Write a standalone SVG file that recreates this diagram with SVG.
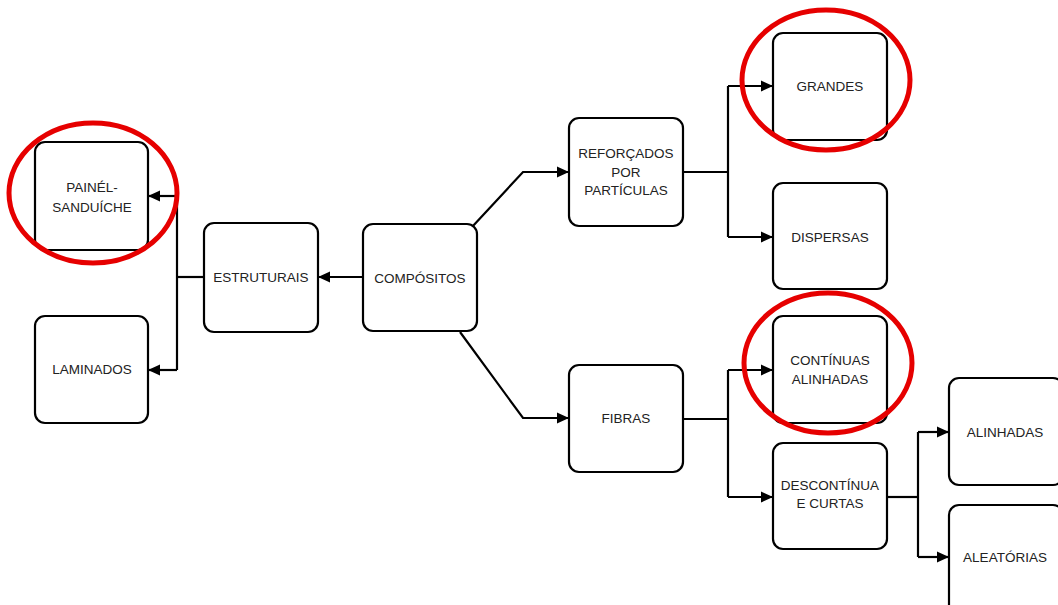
<svg xmlns="http://www.w3.org/2000/svg" width="1058" height="605" viewBox="0 0 1058 605">
<style>
.box{fill:#fff;stroke:#000;stroke-width:2.2}
.t{font-family:"Liberation Sans",Arial,sans-serif;font-size:13.5px;fill:#222;text-anchor:middle}
.c{fill:none;stroke:#000;stroke-width:2.2}
.hl{fill:none;stroke:#e60000;stroke-width:5}
</style>
<defs>
<marker id="arr" viewBox="0 0 12 12" refX="12" refY="6" markerWidth="12" markerHeight="12" markerUnits="userSpaceOnUse" orient="auto">
<path d="M0,0.5 L12,6 L0,11.5 Z" fill="#000"/>
</marker>
</defs>
<rect width="1058" height="605" fill="#fff"/>
<g id="connectors">
<path class="c" d="M363,277 L318,277" marker-end="url(#arr)"/>
<path class="c" d="M204,277 L177,277"/>
<path class="c" d="M177,196 L177,370"/>
<path class="c" d="M177,196 L148,196" marker-end="url(#arr)"/>
<path class="c" d="M177,370 L148,370" marker-end="url(#arr)"/>
<path class="c" d="M472,227 L523,172 L569,172" marker-end="url(#arr)"/>
<path class="c" d="M460,332 L523,418 L569,418" marker-end="url(#arr)"/>
<path class="c" d="M683,172 L728,172"/>
<path class="c" d="M728,86 L728,237"/>
<path class="c" d="M728,86 L773,86" marker-end="url(#arr)"/>
<path class="c" d="M728,237 L773,237" marker-end="url(#arr)"/>
<path class="c" d="M683,419 L728,419"/>
<path class="c" d="M728,370 L728,497"/>
<path class="c" d="M728,370 L773,370" marker-end="url(#arr)"/>
<path class="c" d="M728,497 L773,497" marker-end="url(#arr)"/>
<path class="c" d="M887,497 L918,497"/>
<path class="c" d="M918,432 L918,557"/>
<path class="c" d="M918,432 L949,432" marker-end="url(#arr)"/>
<path class="c" d="M918,557 L949,557" marker-end="url(#arr)"/>
</g>
<g id="painel"><rect class="box" x="35" y="142" width="113" height="108" rx="10"/><text class="t" x="92" y="192">PAINÉL-</text><text class="t" x="92" y="212">SANDUÍCHE</text></g>
<g id="laminados"><rect class="box" x="35" y="316" width="113" height="107" rx="10"/><text class="t" x="92" y="374">LAMINADOS</text></g>
<g id="estruturais"><rect class="box" x="204" y="223" width="114" height="109" rx="10"/><text class="t" x="261" y="282">ESTRUTURAIS</text></g>
<g id="compositos"><rect class="box" x="363" y="224" width="114" height="107" rx="10"/><text class="t" x="420" y="283">COMPÓSITOS</text></g>
<g id="reforcados"><rect class="box" x="569" y="118" width="114" height="108" rx="10"/><text class="t" x="626" y="158">REFORÇADOS</text><text class="t" x="626" y="177">POR</text><text class="t" x="626" y="195">PARTÍCULAS</text></g>
<g id="fibras"><rect class="box" x="569" y="365" width="114" height="107" rx="10"/><text class="t" x="626" y="423">FIBRAS</text></g>
<g id="grandes"><rect class="box" x="773" y="33" width="114" height="107" rx="10"/><text class="t" x="830" y="91">GRANDES</text></g>
<g id="dispersas"><rect class="box" x="773" y="183" width="114" height="106" rx="10"/><text class="t" x="830" y="242">DISPERSAS</text></g>
<g id="continuas"><rect class="box" x="773" y="316" width="114" height="107" rx="10"/><text class="t" x="830" y="365">CONTÍNUAS</text><text class="t" x="830" y="384">ALINHADAS</text></g>
<g id="descontinua"><rect class="box" x="773" y="443" width="114" height="106" rx="10"/><text class="t" x="830" y="490">DESCONTÍNUA</text><text class="t" x="830" y="508">E CURTAS</text></g>
<g id="alinhadas"><rect class="box" x="949" y="378" width="114" height="107" rx="10"/><text class="t" x="1005" y="437">ALINHADAS</text></g>
<g id="aleatorias"><rect class="box" x="949" y="505" width="114" height="110" rx="10"/><text class="t" x="1005" y="562">ALEATÓRIAS</text></g>
<g id="highlights">
<ellipse class="hl" cx="93" cy="193" rx="84" ry="70"/>
<ellipse class="hl" cx="826" cy="80" rx="84" ry="70"/>
<ellipse class="hl" cx="828" cy="363" rx="84" ry="70"/>
</g>
</svg>
